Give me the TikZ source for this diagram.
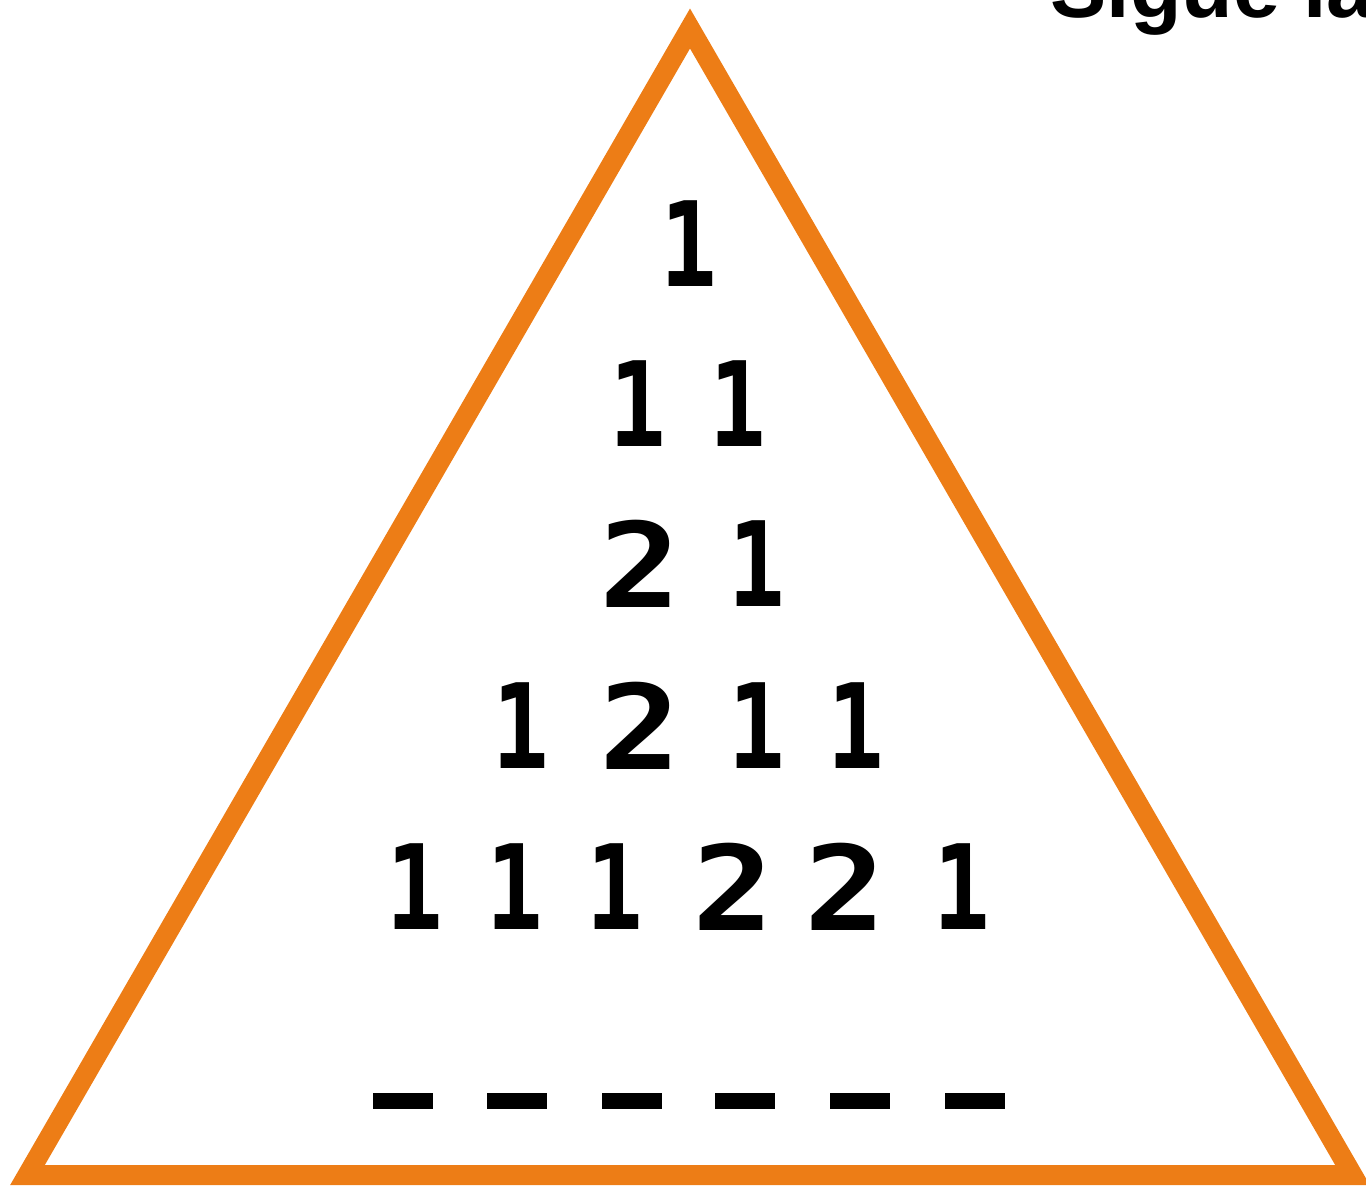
\documentclass[tikz,border=0pt]{standalone}
\usepackage{fontspec}
\usepackage{graphicx}
\setmainfont{Liberation Sans}
\newfontfamily\digitfont{DejaVu Sans Mono}
\usepackage{xcolor}
\definecolor{sqorange}{RGB}{237,125,22}
\usetikzlibrary{positioning}
\newcommand{\one}{\scalebox{0.8}[1]{1}}
\newcommand{\two}{\scalebox{1.15}[1]{2}}

\begin{document}
\begin{tikzpicture}[x=0.02cm,y=-0.02cm,
    digit/.style={font=\digitfont\bfseries\fontsize{67}{67}\selectfont,inner sep=0pt,text=black},
    blank/.style={fill=black,inner sep=0pt,minimum width=60*0.02cm,minimum height=16*0.02cm},
    frame/.style={draw=sqorange,line width=20*0.02cm,miter limit=10}]
  \useasboundingbox (0,0) rectangle (1366,1187);

  %% Title (cut off at the top right)
  \node[font=\bfseries\fontsize{48}{48}\selectfont,anchor=base west,inner sep=0pt]
        (title) at (1050,17) {Sigue la};

  %% Orange frame
  \coordinate (apex) at (690,28.5);
  \coordinate (bl) at (27.5,1175);
  \coordinate (br) at (1352.5,1175);
  \draw[frame] (apex) -- (br) -- (bl) -- cycle;

  %% Row 1
  \node[digit] (r1a) at (689,244) {\one};

  %% Row 2
  \node[digit] (r2a) at (638,404) {\one};
  \node[digit] (r2b) at (738,404) {\one};

  %% Row 3
  \node[digit] (r3a) at (640,564) {\two};
  \node[digit] (r3b) at (757,564) {\one};

  %% Row 4
  \node[digit] (r4a) at (521,726) {\one};
  \node[digit] (r4b) at (640,726) {\two};
  \node[digit] (r4c) at (757,726) {\one};
  \node[digit] (r4d) at (856,726) {\one};

  %% Row 5
  \node[digit] (r5a) at (415,887) {\one};
  \node[digit] (r5b) at (515,887) {\one};
  \node[digit] (r5c) at (615,887) {\one};
  \node[digit] (r5d) at (733,887) {\two};
  \node[digit] (r5e) at (845,887) {\two};
  \node[digit] (r5f) at (962,887) {\one};

  %% Row 6: blanks to fill in
  \node[blank] (b1) at (403,1101) {};
  \node[blank] (b2) at (517,1101) {};
  \node[blank] (b3) at (632,1101) {};
  \node[blank] (b4) at (745,1101) {};
  \node[blank] (b5) at (860,1101) {};
  \node[blank] (b6) at (975,1101) {};
\end{tikzpicture}
\end{document}
